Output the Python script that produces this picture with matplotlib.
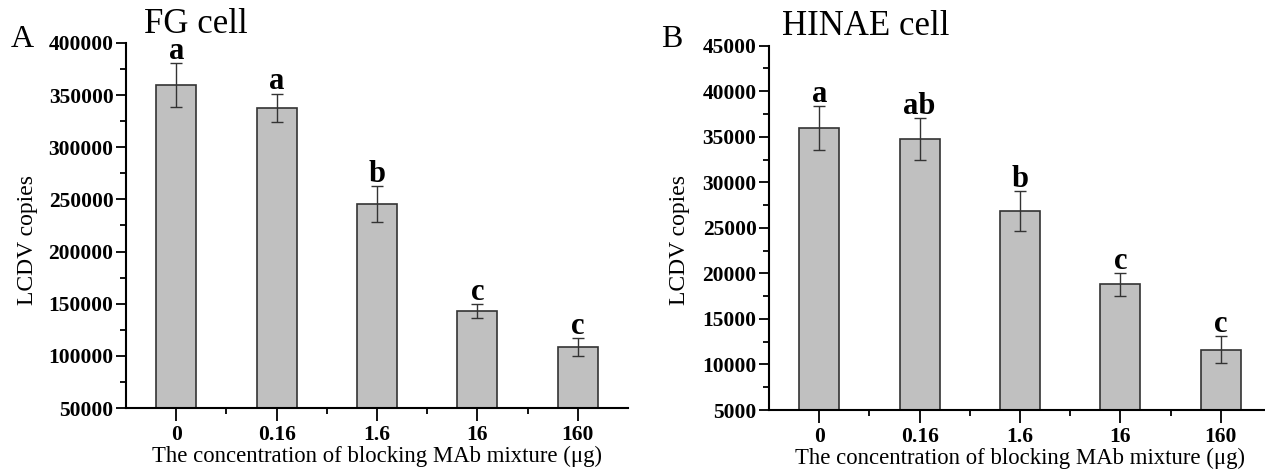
import matplotlib
matplotlib.use("Agg")
import matplotlib.pyplot as plt
from matplotlib.ticker import MultipleLocator, FixedLocator

plt.rcParams['font.family'] = ['Liberation Serif', 'DejaVu Serif']

categories = ["0", "0.16", "1.6", "16", "160"]

fg_values = [360000, 338000, 245500, 142800, 108600]
fg_errors = [21000, 13500, 17500, 6700, 8600]
fg_letters = ["a", "a", "b", "c", "c"]

hinae_values = [35960, 34790, 26880, 18800, 11620]
hinae_errors = [2400, 2300, 2200, 1250, 1500]
hinae_letters = ["a", "ab", "b", "c", "c"]

W, H = 1265, 471
fig = plt.figure(figsize=(W / 100, H / 100), dpi=100)


def panel(rect, values, errors, letters, ylim, major, minor, title, title_x, title_base,
          tag, tag_x, ylabel_x):
    ax = fig.add_axes(rect)
    x = list(range(len(categories)))
    ax.bar(x, values, width=0.4, color="#c0c0c0", edgecolor="#333333", linewidth=1.2, zorder=2)
    ax.errorbar(x, values, yerr=errors, fmt="none", ecolor="#333333", elinewidth=1.0,
                capsize=4, capthick=1.0, zorder=3)
    for xi, v, e, lab in zip(x, values, errors, letters):
        ax.annotate(lab, (xi, v + e), xytext=(0, 3), textcoords="offset points",
                    ha="center", va="baseline", fontsize=22, fontweight="bold")
    ax.set_xlim(-0.5, len(categories) - 0.5)
    ax.set_ylim(*ylim)
    ax.yaxis.set_major_locator(MultipleLocator(major))
    ax.yaxis.set_minor_locator(MultipleLocator(minor))
    ax.set_xticks(x)
    ax.set_xticklabels(categories)
    ax.xaxis.set_minor_locator(FixedLocator([i + 0.5 for i in range(len(categories) - 1)]))
    for s in ["top", "right"]:
        ax.spines[s].set_visible(False)
    for s in ["left", "bottom"]:
        ax.spines[s].set_linewidth(1.5)
    ax.tick_params(axis="both", which="major", direction="out", width=1.3, labelsize=15.5)
    ax.tick_params(axis="y", which="major", length=7, pad=2)
    ax.tick_params(axis="x", which="major", length=9, pad=3)
    ax.tick_params(axis="both", which="minor", direction="out", width=1.3, length=4)
    for lbl in ax.get_xticklabels() + ax.get_yticklabels():
        lbl.set_fontweight("bold")
    ax.set_xlabel("The concentration of blocking MAb mixture (\u03bcg)", fontsize=16.4, labelpad=1)
    fig.text(ylabel_x / W, 1 - 240 / H, "LCDV copies", rotation=90, fontsize=17,
             ha="center", va="center")
    fig.text(title_x / W, 1 - title_base / H, title, fontsize=25, ha="center", va="baseline")
    fig.text(tag_x / W, 1 - 47 / H, tag, fontsize=23, ha="center", va="baseline")
    return ax


panel([126 / W, 63 / H, 502 / W, 365 / H], fg_values, fg_errors, fg_letters,
      (50000, 400000), 50000, 25000, "FG cell", 196, 33, "A", 22, 28)
panel([769 / W, 61 / H, 502 / W, 364.3 / H], hinae_values, hinae_errors, hinae_letters,
      (5000, 45000), 5000, 2500, "HINAE cell", 866, 35, "B", 672, 680)

fig.savefig("out.png", dpi=100)
